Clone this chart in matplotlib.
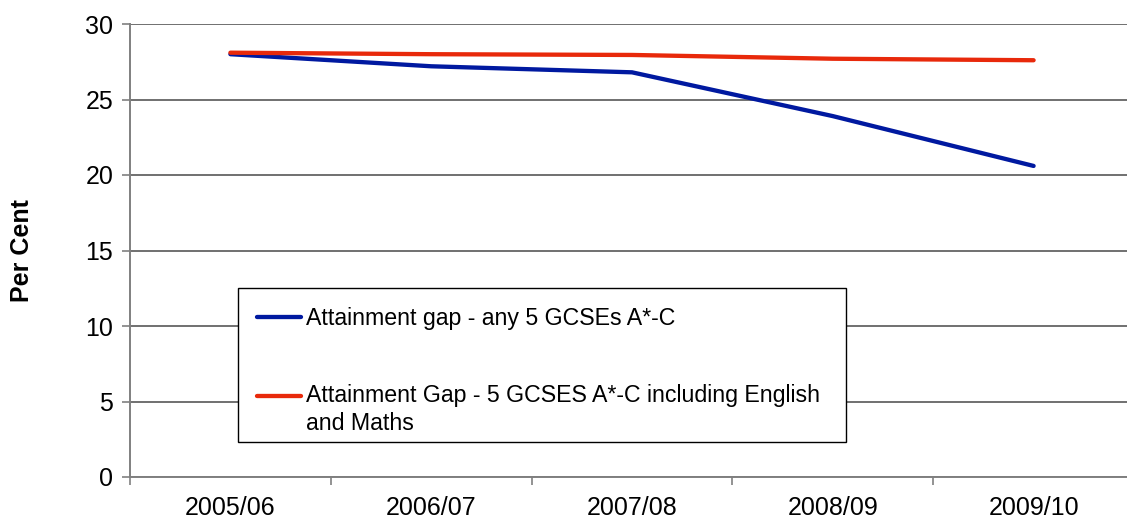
import matplotlib
matplotlib.use("Agg")
import matplotlib.pyplot as plt
from matplotlib.legend_handler import HandlerLine2D
from matplotlib.patches import Rectangle

years = ["2005/06", "2006/07", "2007/08", "2008/09", "2009/10"]
gap_any5 = [28.0, 27.2, 26.8, 23.9, 20.6]
gap_eng_maths = [28.1, 28.0, 27.95, 27.7, 27.6]
series_labels = [
    "Attainment gap - any 5 GCSEs A*-C",
    "Attainment Gap - 5 GCSES A*-C including English\nand Maths",
]
y_ticks = [0, 5, 10, 15, 20, 25, 30]

plt.rcParams["font.family"] = ["Liberation Sans", "DejaVu Sans"]


class FirstLineHandler(HandlerLine2D):
    """Legend line aligned with the first line of a two-line label."""

    def __init__(self, lift, **kw):
        super().__init__(**kw)
        self.lift = lift

    def create_artists(self, legend, orig_handle, xdescent, ydescent,
                       width, height, fontsize, trans):
        return super().create_artists(legend, orig_handle, xdescent,
                                      ydescent - 2 * self.lift, width,
                                      height, fontsize, trans)


W, H = 1127, 521
fig = plt.figure(figsize=(W / 100, H / 100), dpi=100)
ax = fig.add_axes([130 / W, 1 - 477 / H, 1004 / W, 453 / H])

x = list(range(len(years)))
line_any5, = ax.plot(x, gap_any5, color="#0019A0", lw=3.1,
                     solid_capstyle="round", label=series_labels[0], zorder=3)
line_em, = ax.plot(x, gap_eng_maths, color="#E8290B", lw=3.1,
                   solid_capstyle="round", label=series_labels[1], zorder=3)

ax.set_xlim(-0.5, len(years) - 0.5)
ax.set_ylim(0, 30)
ax.set_yticks(y_ticks)
ax.set_xticks(x)
ax.set_xticklabels(years)
ax.set_xticks([i - 0.5 for i in range(len(years) + 1)], minor=True)
ax.tick_params(axis="x", which="major", length=0, labelsize=18, pad=14)
ax.tick_params(axis="x", which="minor", length=6, width=1.2, color="#808080")
ax.tick_params(axis="y", length=6, width=1.2, color="#808080", labelsize=18, pad=6)

ax.grid(axis="y", color="#707070", lw=1.4, zorder=1)
ax.set_axisbelow(True)
for side in ("top", "right"):
    ax.spines[side].set_visible(False)
for side in ("left", "bottom"):
    ax.spines[side].set_color("#808080")
    ax.spines[side].set_linewidth(1.4)

fig.text(22 / W, 1 - 251 / H, "Per Cent", rotation=90, fontsize=18,
         fontweight="bold", ha="center", va="center")

# legend box
box = Rectangle((238 / W, 1 - 442 / H), 608 / W, 154 / H,
                transform=fig.transFigure, facecolor="white",
                edgecolor="black", lw=1.0, zorder=4, clip_on=False)
ax.add_patch(box)

leg = ax.legend(
    handles=[line_any5, line_em],
    handler_map={line_em: FirstLineHandler(10)},
    loc="upper left",
    bbox_to_anchor=(238 / W, 1 - 288 / H, 608 / W, 0.001),
    bbox_transform=fig.transFigure,
    mode="expand",
    fontsize=16.7,
    frameon=False,
    handlelength=1.9,
    handletextpad=0.22,
    labelspacing=2.35,
    borderpad=0.83,
    borderaxespad=0,
)
leg.set_zorder(5)
for t in leg.get_texts():
    t.set_linespacing(1.25)

fig.savefig("out.png", dpi=100)
